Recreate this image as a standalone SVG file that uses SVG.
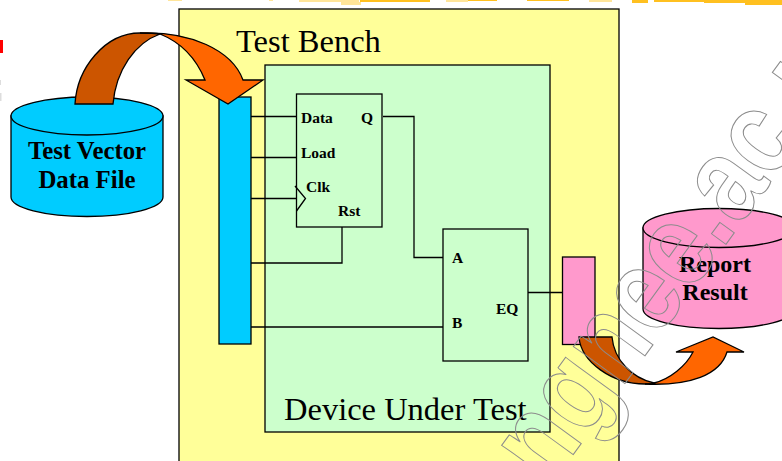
<svg xmlns="http://www.w3.org/2000/svg" width="782" height="461" viewBox="0 0 782 461">
<style>
.b{stroke:#000;stroke-width:1.3}
.w{fill:none;stroke:#000;stroke-width:1.3}
.t{font-family:"Liberation Serif",serif;fill:#000}
.big{font-size:32.500px}
.lab{font-size:24.800px;font-weight:bold;text-anchor:middle}
.pin{font-size:15.500px;font-weight:bold}
.wm{font-family:"Liberation Sans",sans-serif;font-weight:bold;font-size:100px;fill:none;stroke:#8c8c8c;stroke-width:1;vector-effect:non-scaling-stroke}
.o1{fill:#ffc020}
.o2{fill:#ffe59a}
</style>
<rect width="782" height="461" fill="#fff"/>
<g id="page-marks">
<rect class="o2" x="168" y="0" width="14" height="1"/>
<rect class="o2" x="269" y="0" width="4" height="1"/>
<rect class="o2" x="299" y="0" width="60" height="2"/>
<rect class="o2" x="341" y="2" width="20" height="3"/>
<rect class="o1" x="360" y="0" width="70" height="2"/>
<rect class="o2" x="446" y="0" width="22" height="2"/>
<rect class="o1" x="468" y="0" width="29" height="1"/>
<rect class="o1" x="527" y="0" width="42" height="1"/>
<rect class="o2" x="589" y="0" width="23" height="2"/>
<rect class="o1" x="632" y="0" width="16" height="3"/>
<rect class="o1" x="654" y="0" width="50" height="2"/>
<rect class="o1" x="704" y="0" width="78" height="3"/>
<rect class="o1" x="745" y="3" width="37" height="2"/>
<rect x="0" y="40" width="3" height="13" fill="#f00"/>
<rect x="0" y="80" width="1" height="5" fill="#ddd"/>
<rect x="0" y="93" width="1.500" height="8" fill="#ddd"/>
</g>
<g id="test-bench">
<rect x="179" y="9" width="440" height="460" fill="#ffff99" class="b"/>
<text class="t big" x="236" y="52">Test Bench</text>
</g>
<g id="device-under-test">
<rect x="265" y="65" width="285" height="367" fill="#ccffcc" class="b"/>
<text class="t big" x="284" y="420">Device Under Test</text>
</g>
<g id="connectors">
<path class="w" d="M251 116.500H296M251 157.500H296M251 198.500H304M251 263H342V227M251 327H443M383 116.500H414V257.500H443M528 292.500H562"/>
</g>
<g id="driver-bar"><rect x="219" y="97" width="32" height="247" fill="#00ccff" class="b"/></g>
<g id="register">
<rect x="296.500" y="94" width="85.500" height="133" fill="#ccffcc" class="b"/>
<path class="w" d="M295 186L305.500 198.500L296.500 211"/>
<text class="t pin" x="301" y="123">Data</text>
<text class="t pin" x="361" y="123">Q</text>
<text class="t pin" x="301" y="158">Load</text>
<text class="t pin" x="306" y="192">Clk</text>
<text class="t pin" x="338" y="216">Rst</text>
</g>
<g id="comparator">
<rect x="443" y="229" width="85" height="132" fill="#ccffcc" class="b"/>
<text class="t pin" x="452" y="263">A</text>
<text class="t pin" x="452" y="328">B</text>
<text class="t pin" x="496" y="314">EQ</text>
</g>
<g id="monitor-bar"><rect x="562.500" y="257" width="32.500" height="87.500" fill="#ff99cc" class="b"/></g>
<g id="test-vector-file">
<path d="M11 116V197A76 19.500 0 0 0 163 197V116Z" fill="#00ccff" class="b"/>
<ellipse cx="87" cy="116" rx="76" ry="19" fill="#00ccff" class="b"/>
<text class="t lab" x="87" y="159">Test Vector</text>
<text class="t lab" x="87" y="188">Data File</text>
</g>
<g id="report-result">
<path d="M643 228V309A76 19.500 0 0 0 795 309V228Z" fill="#ff99cc" class="b"/>
<ellipse cx="719" cy="228" rx="76" ry="19.500" fill="#ff99cc" class="b"/>
<text class="t lab" x="715" y="272" style="font-size:24px">Report</text>
<text class="t lab" x="715" y="300" style="font-size:24px">Result</text>
</g>
<g id="input-arrow">
<path d="M75 104C77 68 105 33 140 33C148 33 154 33 160 34C135 43 116 70 113 104Z" fill="#cc5500" class="b"/>
<path d="M140 33C190 31 232 50 243 80H263L228 104L186 80H205C196 58 180 42 160 34C154 33 148 33 140 33Z" fill="#ff6600" class="b"/>
</g>
<g id="output-arrow">
<path d="M579 337C581 362 612 384 645 384C649 384 652 384 654 383C632 378 614 360 612 337Z" fill="#cc5500" class="b"/>
<path d="M645 384C690 386 720 375 727 352H744L713 337L676 352H693C686 366 670 379 654 383C652 384 649 384 645 384Z" fill="#ff6600" class="b"/>
</g>
<g id="watermark">
<text class="wm" transform="translate(549 488) rotate(-54) scale(1 1.2)">ngnee.ac.u</text>
</g>
</svg>
